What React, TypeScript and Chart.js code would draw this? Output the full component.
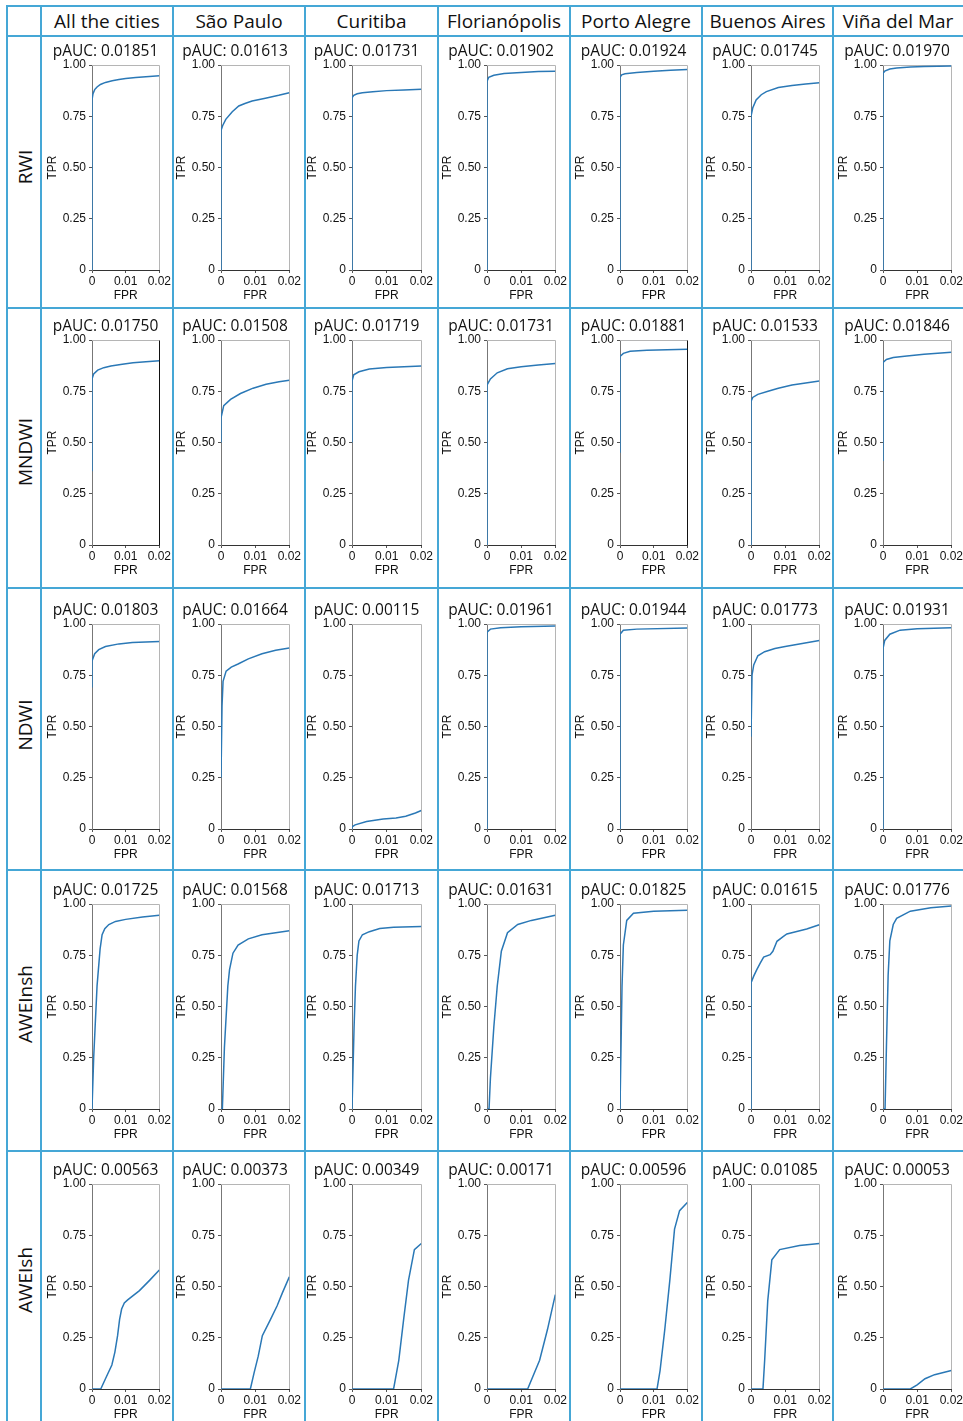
import React, { useEffect, useRef } from 'react';
import { Chart, registerables } from 'chart.js';

Chart.register(...registerables);

// ---------- data ----------
const cities = ['All the cities', 'São Paulo', 'Curitiba', 'Florianópolis', 'Porto Alegre', 'Buenos Aires', 'Viña del Mar'];
const indices = ['RWI', 'MNDWI', 'NDWI', 'AWEInsh', 'AWEIsh'];

const rwiPauc = ['0.01851', '0.01613', '0.01731', '0.01902', '0.01924', '0.01745', '0.01970'];
const mndwiPauc = ['0.01750', '0.01508', '0.01719', '0.01731', '0.01881', '0.01533', '0.01846'];
const ndwiPauc = ['0.01803', '0.01664', '0.00115', '0.01961', '0.01944', '0.01773', '0.01931'];
const aweinshPauc = ['0.01725', '0.01568', '0.01713', '0.01631', '0.01825', '0.01615', '0.01776'];
const aweishPauc = ['0.00563', '0.00373', '0.00349', '0.00171', '0.00596', '0.01085', '0.00053'];

const fprTicks = [0, 0.01, 0.02];
const tprTicks = [0, 0.25, 0.5, 0.75, 1];

// each curve: [FPR, TPR] pairs
const rwiCurves = [
  [[0, 0], [0, 0.83], [0.0003, 0.86], [0.0008, 0.88], [0.0015, 0.893], [0.0025, 0.905], [0.004, 0.915], [0.006, 0.923], [0.008, 0.929], [0.01, 0.934], [0.013, 0.939], [0.016, 0.943], [0.02, 0.947]],
  [[0, 0], [0, 0.68], [0.0005, 0.705], [0.0014, 0.735], [0.0033, 0.772], [0.0052, 0.8], [0.007, 0.812], [0.0091, 0.824], [0.013, 0.838], [0.0169, 0.852], [0.02, 0.865]],
  [[0, 0], [0, 0.84], [0.0005, 0.852], [0.0015, 0.86], [0.003, 0.865], [0.006, 0.87], [0.01, 0.875], [0.015, 0.878], [0.02, 0.882]],
  [[0, 0], [0, 0.92], [0.0005, 0.94], [0.002, 0.95], [0.005, 0.958], [0.01, 0.964], [0.015, 0.968], [0.02, 0.97]],
  [[0, 0], [0, 0.94], [0.0005, 0.952], [0.0015, 0.957], [0.005, 0.963], [0.01, 0.97], [0.015, 0.974], [0.02, 0.978]],
  [[0, 0], [0, 0.75], [0.0005, 0.79], [0.0015, 0.83], [0.003, 0.855], [0.0045, 0.87], [0.008, 0.89], [0.012, 0.9], [0.016, 0.907], [0.02, 0.914]],
  [[0, 0], [0, 0.96], [0.0005, 0.97], [0.002, 0.98], [0.004, 0.985], [0.008, 0.99], [0.012, 0.993], [0.02, 0.995]],
];

const mndwiCurves = [
  [[0, 0.36], [0, 0.81], [0.0005, 0.835], [0.0017, 0.853], [0.0035, 0.865], [0.0056, 0.873], [0.009, 0.882], [0.0122, 0.889], [0.016, 0.894], [0.02, 0.899]],
  [[0, 0.5], [0, 0.62], [0.0008, 0.68], [0.0028, 0.71], [0.0057, 0.739], [0.0094, 0.765], [0.0132, 0.784], [0.017, 0.796], [0.02, 0.804]],
  [[0, 0.5], [0, 0.8], [0.0005, 0.83], [0.002, 0.845], [0.005, 0.858], [0.01, 0.866], [0.015, 0.87], [0.02, 0.873]],
  [[0, 0], [0, 0.78], [0.001, 0.81], [0.003, 0.84], [0.006, 0.86], [0.01, 0.87], [0.015, 0.878], [0.02, 0.885]],
  [[0, 0.45], [0, 0.92], [0.001, 0.935], [0.003, 0.945], [0.008, 0.95], [0.014, 0.953], [0.02, 0.955]],
  [[0, 0], [0, 0.7], [0.0005, 0.72], [0.002, 0.735], [0.005, 0.75], [0.008, 0.765], [0.012, 0.78], [0.016, 0.79], [0.02, 0.8]],
  [[0, 0.41], [0, 0.89], [0.001, 0.905], [0.003, 0.915], [0.007, 0.922], [0.012, 0.93], [0.02, 0.94]],
];

const ndwiCurves = [
  [[0, 0.69], [0, 0.82], [0.0008, 0.855], [0.002, 0.875], [0.004, 0.89], [0.008, 0.903], [0.012, 0.91], [0.02, 0.915]],
  [[0, 0.25], [0.0003, 0.6], [0.0006, 0.72], [0.0015, 0.77], [0.003, 0.79], [0.005, 0.805], [0.008, 0.83], [0.012, 0.855], [0.016, 0.872], [0.02, 0.883]],
  [[0, 0], [0, 0.01], [0.0009, 0.02], [0.0042, 0.037], [0.009, 0.049], [0.0127, 0.054], [0.0155, 0.062], [0.0183, 0.078], [0.02, 0.09]],
  [[0, 0], [0, 0.96], [0.001, 0.975], [0.004, 0.982], [0.01, 0.986], [0.02, 0.99]],
  [[0, 0], [0, 0.95], [0.001, 0.97], [0.005, 0.975], [0.02, 0.98]],
  [[0, 0.45], [0.0003, 0.75], [0.0008, 0.8], [0.002, 0.845], [0.004, 0.865], [0.007, 0.88], [0.01, 0.89], [0.015, 0.905], [0.02, 0.92]],
  [[0, 0], [0, 0.88], [0.0005, 0.92], [0.002, 0.95], [0.005, 0.97], [0.01, 0.977], [0.02, 0.982]],
];

const aweinshCurves = [
  [[0, 0], [0.0002, 0], [0.0005, 0.25], [0.0009, 0.39], [0.0015, 0.6], [0.0024, 0.78], [0.003, 0.85], [0.0038, 0.88], [0.005, 0.9], [0.007, 0.915], [0.01, 0.925], [0.015, 0.937], [0.02, 0.945]],
  [[0, 0], [0.0004, 0], [0.001, 0.3], [0.002, 0.6], [0.0025, 0.68], [0.0035, 0.76], [0.005, 0.8], [0.008, 0.83], [0.012, 0.85], [0.016, 0.86], [0.02, 0.87]],
  [[0, 0], [0.0002, 0], [0.0006, 0.4], [0.001, 0.6], [0.0015, 0.75], [0.002, 0.82], [0.003, 0.85], [0.005, 0.865], [0.008, 0.88], [0.012, 0.887], [0.02, 0.89]],
  [[0, 0], [0.0006, 0], [0.001, 0.15], [0.002, 0.4], [0.003, 0.6], [0.0042, 0.77], [0.006, 0.86], [0.009, 0.9], [0.013, 0.92], [0.02, 0.945]],
  [[0, 0], [0.0002, 0], [0.0006, 0.6], [0.001, 0.8], [0.002, 0.92], [0.004, 0.955], [0.01, 0.965], [0.02, 0.97]],
  [[0, 0], [0, 0.615], [0.00076, 0.647], [0.0017, 0.68], [0.0027, 0.712], [0.0037, 0.741], [0.0056, 0.753], [0.0064, 0.769], [0.0076, 0.818], [0.0095, 0.842], [0.0105, 0.854], [0.0134, 0.866], [0.0163, 0.878], [0.02, 0.899]],
  [[0, 0], [0.0006, 0], [0.001, 0.3], [0.0015, 0.65], [0.002, 0.82], [0.003, 0.9], [0.004, 0.93], [0.008, 0.965], [0.014, 0.982], [0.02, 0.99]],
];

const aweishCurves = [
  [[0, 0], [0.0026, 0], [0.004, 0.05], [0.0059, 0.117], [0.0068, 0.18], [0.0076, 0.26], [0.0082, 0.34], [0.0088, 0.39], [0.0096, 0.42], [0.0106, 0.435], [0.0141, 0.48], [0.0171, 0.53], [0.02, 0.58]],
  [[0, 0], [0.0086, 0], [0.0097, 0.08], [0.0109, 0.16], [0.0121, 0.26], [0.0145, 0.34], [0.0164, 0.405], [0.018, 0.47], [0.02, 0.547]],
  [[0, 0], [0.012, 0], [0.0135, 0.14], [0.0149, 0.34], [0.0163, 0.53], [0.018, 0.68], [0.02, 0.71]],
  [[0, 0], [0.0119, 0], [0.0154, 0.14], [0.0177, 0.29], [0.02, 0.46]],
  [[0, 0], [0.011, 0], [0.0119, 0.09], [0.0133, 0.29], [0.0148, 0.53], [0.0162, 0.78], [0.0177, 0.87], [0.02, 0.91]],
  [[0, 0], [0.0035, 0], [0.004, 0.14], [0.0049, 0.43], [0.0061, 0.63], [0.0084, 0.68], [0.0142, 0.7], [0.02, 0.71]],
  [[0, 0], [0.008, 0], [0.01, 0.02], [0.0123, 0.05], [0.0151, 0.07], [0.02, 0.09]],
];

const paucRows = [rwiPauc, mndwiPauc, ndwiPauc, aweinshPauc, aweishPauc];
const curveRows = [rwiCurves, mndwiCurves, ndwiCurves, aweinshCurves, aweishCurves];

// ---------- layout & style ----------
const colLines = [7, 41, 173, 305, 438, 570, 702, 833];
const rowLines = [6, 36, 308, 588, 870, 1151];
const plotLeft = [92, 221, 352, 487, 620, 751, 883];
const plotRight = [160, 290, 422, 556, 688, 820, 952];
const plotTop = [65, 340, 624, 904, 1184];
const rowLabelY = [167, 452, 725, 1004, 1280];
const darkRightSpine = ['1-0', '1-4'];
const PLOT_H = 205;
const Y_AXIS_W = 50;
const PAD_LEFT = 9;
const RIGHT_PAD = 12;
const TITLE_H = 25;
const X_AXIS_H = 36;
const GRID = '#45a7d6';
const LINE = '#2a78b6';
const TICK_FONT = { family: 'Liberation Sans, Arial, sans-serif', size: 12 };
const HEAD_FONT = '"Open Sans", "Noto Sans", sans-serif';

const fmt = (v: number) => (v === 0 ? '0' : v.toFixed(2));

const framePlugin = {
  id: 'frame',
  beforeDatasetsDraw(chart: any, _args: any, opts: any) {
    const { ctx, chartArea: a } = chart;
    const t = Math.round(a.top) + 0.5;
    const r = Math.round(a.right) + 0.5;
    ctx.save();
    ctx.lineWidth = 1;
    ctx.strokeStyle = '#b5b5b5';
    ctx.beginPath();
    ctx.moveTo(a.left, t);
    ctx.lineTo(r, t);
    ctx.stroke();
    ctx.strokeStyle = opts && opts.darkRight ? '#111' : '#b5b5b5';
    ctx.beginPath();
    ctx.moveTo(r, t);
    ctx.lineTo(r, a.bottom);
    ctx.stroke();
    ctx.restore();
  },
};

function RocChart({ row, col }: { row: number; col: number }) {
  const ref = useRef<HTMLCanvasElement>(null);
  const plotW = plotRight[col] - plotLeft[col];
  const width = Y_AXIS_W + plotW + RIGHT_PAD;
  const height = TITLE_H + PLOT_H + X_AXIS_H;
  const left = plotLeft[col] - Y_AXIS_W;
  const top = plotTop[row] - TITLE_H;

  useEffect(() => {
    const curve = curveRows[row][col];
    const chart = new Chart(ref.current as HTMLCanvasElement, {
      type: 'line',
      data: {
        datasets: [
          {
            data: curve.map(([x, y]) => ({ x, y })),
            borderColor: LINE,
            borderWidth: 1.5,
            pointRadius: 0,
            tension: 0,
            fill: false,
          },
        ],
      },
      options: {
        responsive: false,
        animation: false,
        devicePixelRatio: 1,
        events: [],
        layout: { padding: { left: PAD_LEFT, right: RIGHT_PAD, top: 0, bottom: 0 } },
        plugins: {
          legend: { display: false },
          tooltip: { enabled: false },
          frame: { darkRight: darkRightSpine.includes(row + '-' + col) },
          title: {
            display: true,
            text: 'pAUC: ' + paucRows[row][col],
            color: '#111',
            font: { family: HEAD_FONT, size: 15.5, weight: 'normal' as any },
            padding: { top: 2, bottom: 4.4 },
          },
        } as any,
        scales: {
          x: {
            type: 'linear',
            min: 0,
            max: 0.02,
            afterBuildTicks: (s: any) => {
              s.ticks = fprTicks.map((v) => ({ value: v }));
            },
            afterFit: (s: any) => {
              s.height = X_AXIS_H;
            },
            ticks: {
              callback: (v: any) => fmt(Number(v)),
              font: TICK_FONT,
              color: '#111',
              padding: 1,
              maxRotation: 0,
              autoSkip: false,
            },
            grid: { drawOnChartArea: false, drawTicks: true, tickLength: 3, color: '#555' },
            border: { display: true, color: '#333', width: 1 },
            title: { display: true, text: 'FPR', font: TICK_FONT, color: '#111', padding: { top: 0, bottom: 3 } },
          },
          y: {
            type: 'linear',
            min: 0,
            max: 1,
            afterBuildTicks: (s: any) => {
              s.ticks = tprTicks.map((v) => ({ value: v }));
            },
            afterFit: (s: any) => {
              s.width = Y_AXIS_W - PAD_LEFT;
            },
            ticks: {
              callback: (v: any) => fmt(Number(v)),
              font: TICK_FONT,
              color: '#111',
              padding: 3,
              autoSkip: false,
            },
            grid: { drawOnChartArea: false, drawTicks: true, tickLength: 3, color: '#555' },
            border: { display: true, color: '#777', width: 1 },
            title: { display: true, text: 'TPR', font: TICK_FONT, color: '#111', padding: { top: 3.8 - PAD_LEFT, bottom: 0 } },
          },
        },
      },
      plugins: [framePlugin],
    });
    return () => chart.destroy();
  }, [row, col]);

  return (
    <canvas
      ref={ref}
      width={width}
      height={height}
      style={{ position: 'absolute', left, top, width, height }}
    />
  );
}

export default function App() {
  const lastLine = 1421;
  return (
    <div
      style={{
        position: 'absolute',
        left: 0,
        top: 0,
        width: 963,
        height: 1421,
        overflow: 'hidden',
        background: '#fff',
      }}
    >
      {colLines.map((x, i) => (
        <div key={'v' + i} style={{ position: 'absolute', left: x - 1, top: rowLines[0] - 1, width: 2, height: lastLine - rowLines[0] + 1, background: GRID }} />
      ))}
      {rowLines.map((y, i) => (
        <div key={'h' + i} style={{ position: 'absolute', left: colLines[0] - 1, top: y - 1, width: 963 - colLines[0] + 1, height: 2, background: GRID }} />
      ))}
      {cities.map((c, i) => (
        <div
          key={'c' + i}
          style={{
            position: 'absolute',
            left: colLines[i + 1],
            width: (i + 2 < colLines.length ? colLines[i + 2] : 963) - colLines[i + 1],
            top: rowLines[0],
            height: rowLines[1] - rowLines[0],
            display: 'flex',
            alignItems: 'center',
            justifyContent: 'center',
            fontFamily: HEAD_FONT,
            fontSize: 19,
            color: '#111',
            whiteSpace: 'nowrap',
          }}
        >
          {c}
        </div>
      ))}
      {indices.map((r, i) => (
        <div
          key={'r' + i}
          style={{
            position: 'absolute',
            left: 24.5,
            top: rowLabelY[i],
            transform: 'translate(-50%, -50%) rotate(-90deg)',
            fontFamily: HEAD_FONT,
            fontSize: 19,
            color: '#111',
            whiteSpace: 'nowrap',
            lineHeight: 1,
          }}
        >
          {r}
        </div>
      ))}
      {indices.map((_, r) => cities.map((__, c) => <RocChart key={r + '-' + c} row={r} col={c} />))}
    </div>
  );
}
